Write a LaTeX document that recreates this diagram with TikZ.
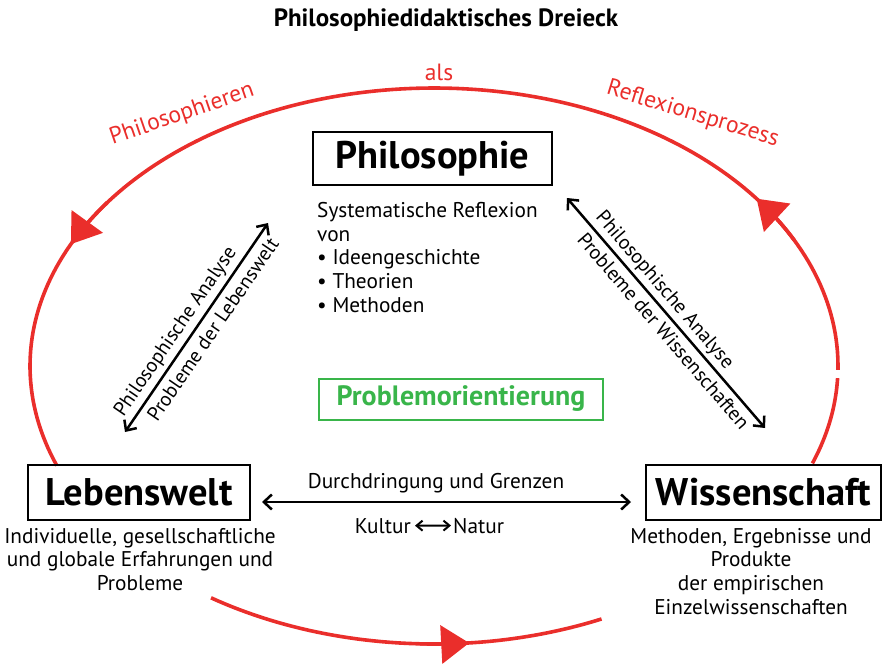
\documentclass[tikz,border=0pt]{standalone}
\usepackage{fontspec}
\setmainfont{PT Sans}
\usetikzlibrary{arrows.meta}
\definecolor{myred}{RGB}{234,46,43}
\definecolor{mygreen}{RGB}{57,181,74}
\begin{document}
\begin{tikzpicture}[x=1pt,y=-1pt,
  box/.style={draw=black, line width=2pt, inner sep=0pt, font=\fontsize{38.5}{38.5}\selectfont\bfseries},
  txt/.style={font=\fontsize{21.3}{23.7}\selectfont, inner sep=0pt},
  rlab/.style={font=\fontsize{20}{20}\selectfont, inner sep=0pt},
  dbl/.style={line width=2.5pt, {Straight Barb[length=8pt,width=15pt]}-{Straight Barb[length=8pt,width=15pt]}},
  redline/.style={myred, line width=3.6pt},
  redtip/.style={myred, line width=3.6pt, -{Triangle[length=28pt,width=38pt]}},
  redtxt/.style={text=myred, font=\fontsize{23.5}{23.5}\selectfont, inner sep=0pt}]
\useasboundingbox (0,0) rectangle (883,664);

% red cycle
\draw[redline] plot[domain=2.5:20.5,samples=20] ({434+404*cos(\x)},{366+278*sin(\x)});
\draw[redline] plot[domain=-201:0.8,samples=160] ({434+404*cos(\x)},{366+278*sin(\x)});
\draw[redline] plot[domain=65.5:123.5,samples=50] ({434+404*cos(\x)},{366+278*sin(\x)});
\draw[redtip] plot[domain=27:37,samples=12] ({434+404*cos(-\x)},{366+278*sin(-\x)});
\draw[redtip] plot[domain=144:154,samples=12] ({434+404*cos(-\x)},{366+278*sin(-\x)});
\draw[redtip] plot[domain=-92:-85,samples=12] ({434+404*cos(-\x)},{366+278*sin(-\x)});

\node[redtxt, anchor=base] (als) at (439,80) {als};
\node[redtxt, anchor=base, rotate=19] (phr) at (184,120) {Philosophieren};
\node[redtxt, anchor=base, rotate=-17] (ref) at (691,120) {Reflexionsprozess};

% title
\node[font=\fontsize{25}{25}\selectfont\bfseries, inner sep=0pt] (title) at (446,20) {Philosophiedidaktisches Dreieck};

% boxes
\node[box, minimum width=239pt, minimum height=53pt] (phil) at (432.5,158.5) {Philosophie};
\node[txt, align=left, anchor=north west] (sys) at (317,202) {Systematische Reflexion\\von\\• Ideengeschichte\\• Theorien\\• Methoden};
\node[draw=mygreen, line width=2pt, text=mygreen, font=\fontsize{28}{28}\selectfont\bfseries, minimum width=284pt, minimum height=41pt, inner sep=0pt] (prob) at (461,399) {Problemorientierung};
\node[box, minimum width=222pt, minimum height=55pt] (leb) at (139,492.5) {Lebenswelt};
\node[box, minimum width=235pt, minimum height=55pt] (wis) at (763.5,492.5) {Wissenschaft};
\node[txt, align=center, anchor=north] (lebd) at (140,528) {Individuelle, gesellschaftliche\\und globale Erfahrungen und\\Probleme};
\node[txt, align=center, anchor=north] (wisd) at (751,528) {Methoden, Ergebnisse und\\Produkte\\der empirischen\\Einzelwissenschaften};

% horizontal relation
\node[txt, anchor=base] (dur) at (436,488) {Durchdringung und Grenzen};
\coordinate (hl) at (262,502);
\coordinate (hr) at (631,502);
\draw[dbl] (hl) -- (hr);
\node[txt, anchor=base east] (kul) at (411,533) {Kultur};
\node[txt, anchor=base west] (nat) at (453,533) {Natur};
\draw[line width=2pt, {Straight Barb[length=6pt,width=10pt]}-{Straight Barb[length=6pt,width=10pt]}] ([xshift=4pt]kul.east) -- ([xshift=-2pt]nat.west);

% diagonals
\coordinate (la) at (125,432);
\coordinate (lb) at (268,223);
\draw[dbl] (la) -- node[pos=0.44, sloped, above=4pt, rlab] (lpa) {Philosophische Analyse}
                   node[pos=0.53, sloped, below=6pt, rlab] (lpl) {Probleme der Lebenswelt} (lb);
\coordinate (ra) at (567,198);
\coordinate (rb) at (765,428);
\draw[dbl] (ra) -- node[pos=0.44, sloped, above=3pt, rlab] (rpa) {Philosophische Analyse}
                   node[pos=0.54, sloped, below=5pt, rlab] (rpw) {Probleme der Wissenschaften} (rb);
\end{tikzpicture}
\end{document}
